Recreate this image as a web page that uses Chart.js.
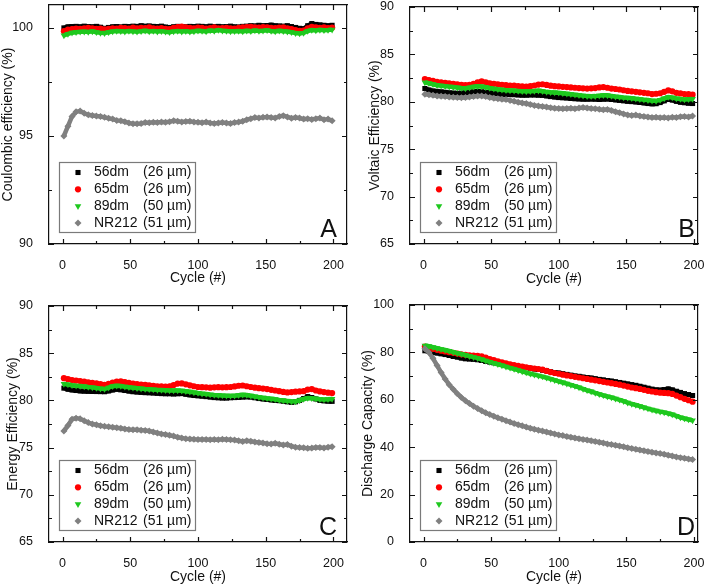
<!DOCTYPE html>
<html lang="en">
<head>
<meta charset="UTF-8">
<title>Membrane cycling performance</title>
<script src="https://cdn.jsdelivr.net/npm/chart.js"></script>
<style>
  body { margin: 0; background: #fff; }
  .panel { position: absolute; }
</style>
</head>
<body>
<div class="panel" style="left:0;top:0"><canvas id="chartA" width="355" height="290"></canvas></div>
<div class="panel" style="left:355px;top:0"><canvas id="chartB" width="354" height="290"></canvas></div>
<div class="panel" style="left:0;top:290px"><canvas id="chartC" width="355" height="296"></canvas></div>
<div class="panel" style="left:355px;top:290px"><canvas id="chartD" width="354" height="296"></canvas></div>
<script>
// cycle numbers (every third cycle)
const cycles = [1,4,7,10,13,16,19,22,25,28,
  31,34,37,40,43,46,49,52,55,58,
  61,64,67,70,73,76,79,82,85,88,
  91,94,97,100,103,106,109,112,115,118,
  121,124,127,130,133,136,139,142,145,148,
  151,154,157,160,163,166,169,172,175,178,
  181,184,187,190,193,196,199];

const seriesNames = ['56dm', '65dm', '89dm', 'NR212'];
const thickness = ['(26 µm)', '(26 µm)', '(50 µm)', '(51 µm)'];

const xTicks = [0, 50, 100, 150, 200];
const xMinor = [25, 75, 125, 175];

// A: coulombic efficiency
const ce56 = [100.00,100.05,100.06,100.07,100.05,100.08,100.06,100.05,100.07,100.03,
  99.98,100.02,100.05,100.06,100.04,100.07,100.06,100.08,100.07,100.10,
  100.08,100.09,100.07,100.06,100.08,100.04,100.02,100.05,100.07,100.06,
  100.05,100.07,100.06,100.08,100.07,100.05,100.08,100.06,100.07,100.05,
  100.06,100.08,100.05,100.04,100.07,100.08,100.10,100.09,100.12,100.10,
  100.11,100.13,100.10,100.09,100.08,100.10,100.06,100.02,99.98,99.96,
  100.10,100.20,100.16,100.14,100.12,100.10,100.12];
const ce65 = [99.85,99.92,99.95,99.97,99.96,99.98,100.00,99.98,99.96,99.97,
  99.93,99.96,99.98,99.97,100.00,99.99,99.97,100.01,99.98,100.00,
  99.99,100.02,99.98,99.97,99.99,99.96,99.95,100.00,100.04,100.06,
  100.03,100.00,99.98,100.01,100.00,99.97,99.99,100.02,99.98,99.99,
  100.00,99.98,99.97,100.00,100.02,100.04,100.05,100.03,100.01,100.04,
  100.02,100.00,99.99,100.01,100.02,99.98,99.95,99.90,99.86,99.88,
  99.98,100.05,100.03,100.00,100.02,99.99,100.01];
const ce89 = [99.65,99.72,99.78,99.80,99.82,99.83,99.81,99.84,99.80,99.77,
  99.76,99.80,99.84,99.86,99.85,99.83,99.86,99.84,99.82,99.85,
  99.87,99.84,99.86,99.83,99.85,99.82,99.80,99.84,99.86,99.83,
  99.85,99.82,99.84,99.87,99.86,99.84,99.88,99.86,99.90,99.87,
  99.86,99.84,99.85,99.86,99.84,99.87,99.85,99.88,99.86,99.87,
  99.89,99.86,99.84,99.87,99.85,99.83,99.80,99.76,99.74,99.77,
  99.86,99.90,99.88,99.91,99.89,99.90,99.92];
const ceNR = [95.00,95.45,95.90,96.12,96.15,96.05,95.98,95.95,95.92,95.90,
  95.86,95.82,95.78,95.72,95.70,95.66,95.60,95.57,95.56,95.58,
  95.62,95.61,95.63,95.62,95.65,95.63,95.66,95.70,95.68,95.65,
  95.67,95.68,95.65,95.63,95.61,95.64,95.60,95.58,95.60,95.62,
  95.60,95.58,95.62,95.64,95.68,95.75,95.80,95.85,95.83,95.86,
  95.88,95.85,95.83,95.90,95.94,95.88,95.82,95.85,95.83,95.78,
  95.80,95.76,95.80,95.83,95.75,95.78,95.70];

// B: voltaic efficiency
const ve56 = [81.40,81.25,81.15,81.10,81.05,81.00,80.95,80.92,80.90,80.92,
  80.95,81.00,81.05,81.08,81.05,81.00,80.95,80.90,80.85,80.80,
  80.78,80.76,80.75,80.72,80.70,80.70,80.72,80.72,80.70,80.68,
  80.62,80.55,80.50,80.45,80.42,80.40,80.35,80.32,80.30,80.28,
  80.28,80.30,80.28,80.25,80.28,80.30,80.25,80.20,80.15,80.10,
  80.05,80.02,79.98,79.93,79.88,79.82,79.78,79.80,79.92,80.10,
  80.25,80.18,80.05,79.95,79.90,79.85,79.82];
const ve65 = [82.40,82.30,82.20,82.10,82.05,82.00,81.95,81.90,81.85,81.80,
  81.75,81.80,81.90,82.05,82.15,82.05,81.95,81.90,81.85,81.80,
  81.75,81.72,81.70,81.65,81.62,81.60,81.65,81.72,81.82,81.85,
  81.78,81.70,81.65,81.62,81.58,81.55,81.52,81.48,81.45,81.42,
  81.40,81.42,81.45,81.52,81.55,81.48,81.40,81.35,81.30,81.22,
  81.15,81.10,81.05,81.00,80.95,80.90,80.82,80.85,80.90,81.05,
  81.20,81.10,80.95,80.88,80.82,80.80,80.75];
const ve89 = [82.05,81.95,81.85,81.75,81.70,81.65,81.60,81.55,81.50,81.45,
  81.42,81.50,81.60,81.65,81.62,81.55,81.45,81.38,81.32,81.28,
  81.22,81.20,81.18,81.15,81.12,81.10,81.12,81.15,81.18,81.12,
  81.05,81.00,80.98,80.95,80.90,80.85,80.80,80.75,80.70,80.65,
  80.60,80.58,80.60,80.65,80.70,80.68,80.62,80.55,80.50,80.45,
  80.42,80.38,80.32,80.28,80.22,80.18,80.12,80.10,80.20,80.35,
  80.50,80.45,80.35,80.30,80.25,80.28,80.30];
const veNR = [80.80,80.75,80.68,80.60,80.58,80.55,80.50,80.48,80.45,80.44,
  80.45,80.50,80.55,80.60,80.62,80.55,80.45,80.38,80.32,80.28,
  80.25,80.15,80.05,79.95,79.88,79.82,79.72,79.62,79.55,79.50,
  79.45,79.38,79.32,79.30,79.28,79.30,79.32,79.28,79.35,79.40,
  79.35,79.30,79.28,79.22,79.15,79.20,79.08,78.95,78.85,78.72,
  78.62,78.55,78.60,78.50,78.45,78.40,78.35,78.38,78.32,78.35,
  78.30,78.38,78.35,78.42,78.45,78.40,78.50];

// C: energy efficiency
const ee56 = [81.30,81.18,81.10,81.05,81.00,80.98,80.96,80.95,80.94,80.93,
  80.92,81.00,81.10,81.18,81.12,81.05,80.98,80.92,80.88,80.85,
  80.82,80.80,80.78,80.75,80.72,80.70,80.70,80.68,80.70,80.72,
  80.65,80.58,80.52,80.48,80.45,80.40,80.35,80.30,80.27,80.25,
  80.25,80.28,80.30,80.32,80.35,80.38,80.35,80.28,80.20,80.15,
  80.10,80.05,80.00,79.97,79.92,79.85,79.80,79.85,80.00,80.20,
  80.40,80.30,80.15,80.00,79.95,79.92,79.90];
const ee65 = [82.35,82.25,82.15,82.10,82.05,81.98,81.92,81.85,81.80,81.72,
  81.65,81.75,81.88,81.98,82.02,81.95,81.85,81.78,81.72,81.68,
  81.65,81.60,81.55,81.50,81.48,81.45,81.50,81.62,81.78,81.80,
  81.70,81.60,81.50,81.42,81.40,81.38,81.35,81.38,81.40,81.38,
  81.40,81.42,81.48,81.55,81.58,81.50,81.42,81.35,81.30,81.25,
  81.20,81.12,81.05,80.98,80.90,80.85,80.88,80.92,80.95,80.98,
  81.15,81.20,81.05,80.95,80.88,80.82,80.78];
const ee89 = [81.75,81.68,81.60,81.55,81.52,81.48,81.42,81.38,81.32,81.25,
  81.20,81.35,81.50,81.55,81.52,81.45,81.40,81.35,81.30,81.25,
  81.20,81.18,81.15,81.12,81.10,81.08,81.05,81.05,81.05,81.02,
  80.98,80.92,80.85,80.78,80.72,80.68,80.62,80.58,80.55,80.52,
  80.50,80.48,80.50,80.55,80.60,80.58,80.50,80.42,80.35,80.28,
  80.22,80.18,80.12,80.05,80.00,79.95,79.90,79.88,80.00,80.15,
  80.25,80.22,80.18,80.12,80.10,80.12,80.15];
const eeNR = [76.75,77.35,78.00,78.12,78.05,77.85,77.65,77.50,77.42,77.32,
  77.25,77.20,77.15,77.10,77.05,76.98,76.92,76.90,76.88,76.85,
  76.80,76.75,76.65,76.55,76.45,76.38,76.30,76.22,76.10,76.02,
  75.95,75.92,75.88,75.87,75.85,75.85,75.82,75.85,75.83,75.88,
  75.85,75.82,75.80,75.72,75.65,75.72,75.68,75.60,75.55,75.48,
  75.42,75.38,75.45,75.35,75.28,75.32,75.15,75.05,75.00,74.98,
  74.92,74.95,75.02,75.00,74.95,75.05,75.10];

// D: discharge capacity
const dc56 = [80.7,80.4,80.0,79.7,79.4,79.1,78.7,78.3,78.0,77.6,
  77.3,77.2,77.1,76.9,76.6,76.2,75.9,75.6,75.3,75.0,
  74.7,74.5,74.3,74.0,73.8,73.6,73.3,73.0,72.8,72.5,
  72.2,71.8,71.5,71.3,71.0,70.7,70.4,70.1,69.9,69.6,
  69.4,69.2,68.9,68.6,68.4,68.1,67.9,67.6,67.3,67.0,
  66.7,66.4,66.1,65.7,65.3,64.9,64.5,64.2,64.1,64.3,
  64.6,64.2,63.6,63.1,62.6,62.2,61.8];
const dc65 = [82.5,82.0,81.5,81.1,80.7,80.4,80.1,79.8,79.5,79.2,
  79.0,78.8,78.6,78.5,78.3,77.8,77.2,76.7,76.2,75.8,
  75.4,75.0,74.6,74.3,74.0,73.7,73.4,73.2,73.0,72.7,
  72.2,71.7,71.3,71.0,70.6,70.3,70.0,69.7,69.4,69.1,
  68.8,68.5,68.2,67.9,67.6,67.3,67.0,66.7,66.4,66.0,
  65.6,65.2,64.9,64.6,64.2,63.8,63.5,63.2,63.0,62.9,
  62.8,62.5,61.8,61.1,60.4,59.8,59.2];
const dc89 = [82.9,82.6,82.2,81.8,81.4,81.0,80.6,80.1,79.7,79.3,
  78.9,78.4,78.0,77.6,77.1,76.5,76.0,75.5,75.0,74.5,
  74.0,73.5,73.0,72.5,72.0,71.5,71.0,70.6,70.2,69.8,
  69.3,68.8,68.3,67.8,67.3,66.8,66.3,65.8,65.2,64.6,
  64.0,63.5,62.9,62.4,61.9,61.4,61.0,60.5,60.0,59.4,
  58.8,58.3,57.8,57.3,56.8,56.3,55.8,55.4,55.0,54.7,
  54.3,53.8,53.2,52.6,52.1,51.7,51.3];
const dcNR = [81.5,80.0,77.5,74.5,71.5,68.8,66.4,64.4,62.6,61.0,
  59.6,58.4,57.3,56.3,55.4,54.5,53.8,53.1,52.4,51.8,
  51.2,50.6,50.0,49.5,49.0,48.5,48.0,47.6,47.2,46.8,
  46.4,46.0,45.6,45.2,44.9,44.5,44.2,43.9,43.6,43.3,
  43.0,42.7,42.4,42.1,41.8,41.4,41.1,40.8,40.5,40.2,
  39.8,39.5,39.1,38.8,38.5,38.2,37.9,37.6,37.3,37.0,
  36.6,36.3,35.9,35.6,35.3,35.0,34.8];

const ceTicks = [90, 95, 100];
const ceMinor = [92.5, 97.5];
const effTicks = [65, 70, 75, 80, 85, 90];
const effMinor = [67.5, 72.5, 77.5, 82.5, 87.5];
const dcTicks = [0, 20, 40, 60, 80, 100];
const dcMinor = [10, 30, 50, 70, 90];

Chart.defaults.font.family = '"Liberation Sans", Arial, sans-serif';
Chart.defaults.color = '#111';

const markers = [
  { color: '#000000', style: 'rect', radius: 3.6, rotation: 0 },
  { color: '#ff0000', style: 'circle', radius: 3.1, rotation: 0 },
  { color: '#1ec81e', style: 'triangle', radius: 3.8, rotation: 180 },
  { color: '#808080', style: 'rectRot', radius: 3.5, rotation: 0 }
];

// inward ticks, legend box and panel letter
const decor = {
  id: 'decor',
  afterDraw(chart) {
    const o = chart.options.plugins.decor;
    const ctx = chart.ctx;
    const a = chart.chartArea;
    const xs = chart.scales.x, ys = chart.scales.y;
    ctx.save();

    // legend
    const bx = Math.round(a.left + 10) + 0.5, bw = 136, bh = 70;
    const by = Math.round(a.bottom - 12 - bh) + 0.5;
    ctx.fillStyle = '#ffffff';
    ctx.fillRect(bx, by, bw, bh);
    ctx.lineWidth = 1.2;
    ctx.strokeStyle = '#7a7a7a';
    ctx.strokeRect(bx, by, bw, bh);
    ctx.font = '14px "Liberation Sans", Arial, sans-serif';
    ctx.textBaseline = 'middle';
    seriesNames.forEach((name, i) => {
      const yy = by + 10 + i * 16.8;
      const m = markers[i];
      ctx.fillStyle = m.color;
      Chart.helpers.drawPoint(ctx, { pointStyle: m.style, rotation: m.rotation, radius: m.radius, borderWidth: 0 }, bx + 18.5, yy);
      ctx.fillStyle = '#111';
      ctx.textAlign = 'left';
      ctx.fillText(name, bx + 34.5, yy);
      ctx.fillText(thickness[i], bx + 83.5, yy);
    });

    // panel letter
    ctx.font = '25px "Liberation Sans", Arial, sans-serif';
    ctx.textAlign = 'right';
    ctx.textBaseline = 'alphabetic';
    ctx.fillStyle = '#111';
    ctx.fillText(o.letter, a.right - o.letterInset, a.bottom - 7);

    // inward ticks on all four sides
    const l = a.left, r = a.right, t = a.top, b = a.bottom;
    ctx.strokeStyle = '#111';
    ctx.lineWidth = 1.2;
    ctx.beginPath();
    const vx = (v, len) => {
      const px = Math.round(xs.getPixelForValue(v)) + 0.5;
      ctx.moveTo(px, b); ctx.lineTo(px, b - len);
      ctx.moveTo(px, t); ctx.lineTo(px, t + len);
    };
    const vy = (v, len) => {
      const py = Math.round(ys.getPixelForValue(v)) + 0.5;
      ctx.moveTo(l, py); ctx.lineTo(l + len, py);
      ctx.moveTo(r, py); ctx.lineTo(r - len, py);
    };
    xTicks.forEach(v => vx(v, 5));
    xMinor.forEach(v => vx(v, 3));
    o.yTicks.forEach(v => vy(v, 5));
    o.yMinor.forEach(v => vy(v, 3));
    ctx.stroke();
    ctx.restore();
  }
};

const frameBorder = { display: true, color: '#111', width: 1.2 };

function makePanel(id, p) {
  const datasets = p.series.map((vals, i) => ({
    label: seriesNames[i],
    data: cycles.map((c, k) => ({ x: c, y: vals[k] })),
    showLine: true,
    borderWidth: 4.5,
    tension: 0,
    pointStyle: markers[i].style,
    rotation: markers[i].rotation,
    pointRadius: markers[i].radius,
    pointHoverRadius: markers[i].radius,
    pointBorderWidth: 0,
    backgroundColor: markers[i].color,
    borderColor: markers[i].color,
    order: 3 - i
  }));
  new Chart(document.getElementById(id), {
    type: 'scatter',
    data: { datasets },
    plugins: [decor],
    options: {
      responsive: false,
      animation: false,
      events: [],
      layout: { padding: { top: p.padTop, right: p.padRight, left: 0, bottom: 0 } },
      plugins: {
        legend: { display: false },
        tooltip: { enabled: false },
        decor: { letter: p.letter, letterInset: p.letterInset, yTicks: p.yTicks, yMinor: p.yMinor }
      },
      scales: {
        x: {
          type: 'linear', min: -10, max: p.xMax,
          grid: { display: false }, border: frameBorder,
          afterBuildTicks: s => { s.ticks = xTicks.map(v => ({ value: v })); },
          afterFit: s => { s.height = p.xHeight; s.paddingLeft = 0; s.paddingRight = 0; },
          ticks: { font: { size: 12.5 }, padding: 6, maxRotation: 0 },
          title: { display: true, text: 'Cycle (#)', font: { size: 14 }, padding: { top: 0, bottom: p.xTitlePad } }
        },
        xTop: {
          type: 'linear', position: 'top', min: -10, max: p.xMax,
          grid: { display: false }, border: frameBorder,
          ticks: { display: false },
          afterFit: s => { s.height = 0; s.paddingLeft = 0; s.paddingRight = 0; }
        },
        y: {
          type: 'linear', min: p.yMin, max: p.yMax,
          grid: { display: false }, border: frameBorder,
          afterBuildTicks: s => { s.ticks = p.yTicks.map(v => ({ value: v })); },
          afterFit: s => { s.width = p.yWidth; s.paddingTop = 0; s.paddingBottom = 0; },
          ticks: { font: { size: 12.5 }, padding: 8 },
          title: { display: true, text: p.yTitle, font: { size: 14 }, padding: { top: p.yTitlePad, bottom: 0 } }
        },
        yRight: {
          type: 'linear', position: 'right', min: p.yMin, max: p.yMax,
          grid: { display: false }, border: frameBorder,
          ticks: { display: false },
          afterFit: s => { s.width = 0; s.paddingTop = 0; s.paddingBottom = 0; }
        }
      }
    }
  });
}

makePanel('chartA', {
  series: [ce56, ce65, ce89, ceNR], yMin: 90, yMax: 101.06, yTicks: ceTicks, yMinor: ceMinor,
  yTitle: 'Coulombic efficiency (%)', letter: 'A', letterInset: 10, xMax: 210,
  padTop: 5, padRight: 8, yWidth: 49, xHeight: 46, yTitlePad: 0, xTitlePad: 3
});
makePanel('chartB', {
  series: [ve56, ve65, ve89, veNR], yMin: 65, yMax: 90, yTicks: effTicks, yMinor: effMinor,
  yTitle: 'Voltaic Efficiency (%)', letter: 'B', letterInset: 3, xMax: 203,
  padTop: 7, padRight: 11, yWidth: 55, xHeight: 46, yTitlePad: 12, xTitlePad: 2
});
makePanel('chartC', {
  series: [ee56, ee65, ee89, eeNR], yMin: 65, yMax: 90, yTicks: effTicks, yMinor: effMinor,
  yTitle: 'Energy Efficiency (%)', letter: 'C', letterInset: 10, xMax: 210,
  padTop: 16, padRight: 8, yWidth: 49, xHeight: 44, yTitlePad: 5, xTitlePad: 0
});
makePanel('chartD', {
  series: [dc56, dc65, dc89, dcNR], yMin: 0, yMax: 100, yTicks: dcTicks, yMinor: dcMinor,
  yTitle: 'Discharge Capacity (%)', letter: 'D', letterInset: 3, xMax: 203,
  padTop: 15, padRight: 11, yWidth: 55, xHeight: 44, yTitlePad: 5, xTitlePad: 0
});
</script>
</body>
</html>
